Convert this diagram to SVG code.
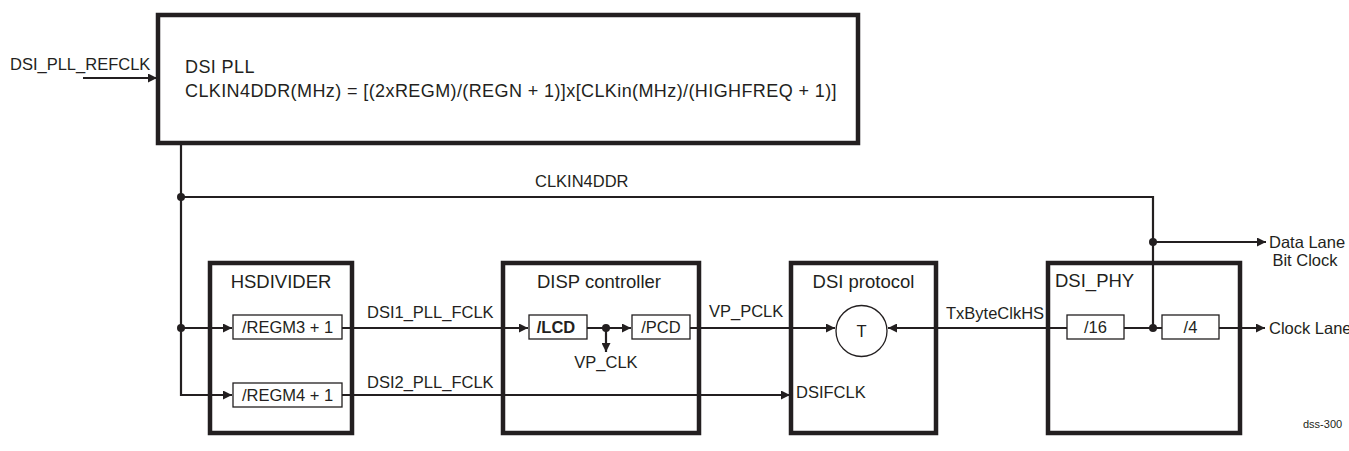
<svg xmlns="http://www.w3.org/2000/svg" width="1349" height="451" viewBox="0 0 1349 451">
<style>
text{font-family:"Liberation Sans",Arial,sans-serif;fill:#231f20}
.lbl{font-size:16.5px}
.pll{font-size:18px;letter-spacing:0.4px}
.ttl{font-size:18.5px}
.big{fill:none;stroke:#231f20;stroke-width:4.5}
.small{fill:#fff;stroke:#231f20;stroke-width:1.3}
.w{fill:none;stroke:#231f20;stroke-width:2.2}
.dot{fill:#231f20}
</style>
<defs>
<marker id="ah" viewBox="0 0 10 10" refX="10" refY="5" markerWidth="10" markerHeight="9" markerUnits="userSpaceOnUse" orient="auto">
<path d="M0,0 L10,5 L0,10 Z" fill="#231f20"/>
</marker>
</defs>
<rect width="1349" height="451" fill="#fff"/>
<g id="connectors">
<path class="w" d="M83,78 H157" marker-end="url(#ah)"/>
<path class="w" d="M181,143 V395 H232" marker-end="url(#ah)"/>
<path class="w" d="M181,328 H232" marker-end="url(#ah)"/>
<path class="w" d="M181,197 H1153 V328"/>
<path class="w" d="M1153,242 H1266" marker-end="url(#ah)"/>
<path class="w" d="M342,328 H528" marker-end="url(#ah)"/>
<path class="w" d="M587,328 H631" marker-end="url(#ah)"/>
<path class="w" d="M606,328 V352" marker-end="url(#ah)"/>
<path class="w" d="M690,328 H835" marker-end="url(#ah)"/>
<path class="w" d="M342,395 H790" marker-end="url(#ah)"/>
<path class="w" d="M1067,328 H888" marker-end="url(#ah)"/>
<path class="w" d="M1124,328 H1162"/>
<path class="w" d="M1219,328 H1265" marker-end="url(#ah)"/>
<circle class="dot" cx="181" cy="197" r="4"/>
<circle class="dot" cx="181" cy="328" r="4"/>
<circle class="dot" cx="606" cy="328" r="4"/>
<circle class="dot" cx="1153" cy="242" r="4"/>
<circle class="dot" cx="1153" cy="328" r="4"/>
<text class="lbl" x="10" y="70">DSI_PLL_REFCLK</text>
<text class="lbl" x="535" y="187">CLKIN4DDR</text>
<text class="lbl" x="367" y="318">DSI1_PLL_FCLK</text>
<text class="lbl" x="367" y="388">DSI2_PLL_FCLK</text>
<text class="lbl" x="606" y="368" text-anchor="middle">VP_CLK</text>
<text class="lbl" x="709" y="317">VP_PCLK</text>
<text class="lbl" x="946" y="319">TxByteClkHS</text>
<text class="lbl" x="1269" y="248">Data Lane</text>
<text class="lbl" x="1305" y="266" text-anchor="middle">Bit Clock</text>
<text class="lbl" x="1269" y="334">Clock Lane</text>
</g>
<g id="pll">
<rect class="big" x="158" y="15" width="700" height="128"/>
<text class="pll" x="185" y="73">DSI PLL</text>
<text class="pll" x="185" y="97">CLKIN4DDR(MHz) = [(2xREGM)/(REGN + 1)]x[CLKin(MHz)/(HIGHFREQ + 1)]</text>
</g>
<g id="hsdivider">
<rect class="big" x="210" y="263" width="142" height="170"/>
<text class="ttl" x="281" y="288" text-anchor="middle">HSDIVIDER</text>
<rect class="small" x="233" y="315" width="109" height="24"/>
<text class="lbl" x="287.5" y="333" text-anchor="middle">/REGM3 + 1</text>
<rect class="small" x="233" y="383" width="109" height="24"/>
<text class="lbl" x="287.5" y="401" text-anchor="middle">/REGM4 + 1</text>
</g>
<g id="disp">
<rect class="big" x="503" y="263" width="196" height="170"/>
<text class="ttl" x="599" y="288" text-anchor="middle">DISP controller</text>
<rect class="small" x="529" y="315" width="58" height="24"/>
<text class="lbl" x="556" y="333" text-anchor="middle" font-weight="bold">/LCD</text>
<rect class="small" x="632" y="315" width="58" height="24"/>
<text class="lbl" x="661" y="333" text-anchor="middle">/PCD</text>
</g>
<g id="dsiprotocol">
<rect class="big" x="791" y="263" width="145" height="170"/>
<text class="ttl" x="863.5" y="288" text-anchor="middle">DSI protocol</text>
<circle cx="861.5" cy="331" r="25.5" fill="#fff" stroke="#231f20" stroke-width="1.3"/>
<text class="lbl" x="861.5" y="337" text-anchor="middle">T</text>
<text class="lbl" x="796" y="398">DSIFCLK</text>
</g>
<g id="dsiphy">
<rect class="big" x="1048" y="263" width="192" height="170"/>
<text class="ttl" x="1055" y="287">DSI_PHY</text>
<rect class="small" x="1067" y="315" width="57" height="24"/>
<text class="lbl" x="1095.5" y="333" text-anchor="middle">/16</text>
<rect class="small" x="1162" y="315" width="57" height="24"/>
<text class="lbl" x="1190.5" y="333" text-anchor="middle">/4</text>
</g>
<text x="1303" y="428" font-size="11">dss-300</text>
</svg>
